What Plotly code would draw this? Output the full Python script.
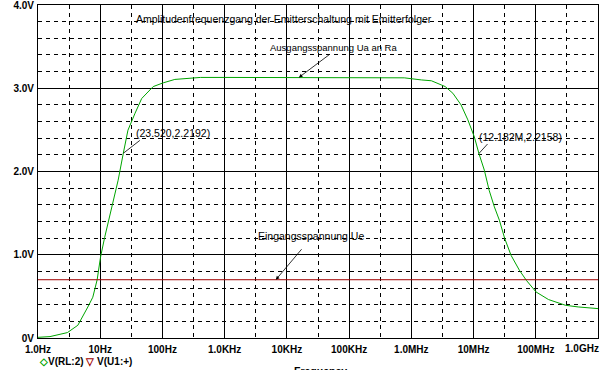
import plotly.graph_objects as go
import math

# ---- data ----
freq_hz = [1, 1.56, 2.97, 4.37, 6.33, 7.6, 8.93, 10.1, 11.8, 13.7, 16.0, 19.4, 23.5,
           27.9, 36.3, 46.4, 71, 103, 158, 409, 1e3, 1e4, 1e5, 7.7e5, 1.45e6, 2.1e6,
           3.03e6, 3.5e6, 4.65e6, 6.3e6, 8.1e6, 10.3e6, 12.2e6, 14.9e6, 17.8e6, 21.6e6,
           26e6, 31.7e6, 40e6, 54.5e6, 70.5e6, 101e6, 160e6, 300e6, 480e6, 1e9]
v_out = [0.008, 0.017, 0.065, 0.153, 0.373, 0.49, 0.70, 0.97, 1.21, 1.41, 1.655, 1.895, 2.219,
         2.496, 2.70, 2.877, 3.02, 3.065, 3.106, 3.13, 3.13, 3.13, 3.13, 3.125, 3.10, 3.09,
         3.04, 3.02, 2.94, 2.80, 2.62, 2.415, 2.216, 2.016, 1.775, 1.575,
         1.415, 1.195, 0.994, 0.814, 0.693, 0.553, 0.462, 0.393, 0.373, 0.353]
ve_freq = [1, 1e9]
v_in = [0.70, 0.70]

x_tickvals = [1, 10, 100, 1e3, 1e4, 1e5, 1e6, 1e7, 1e8, 1e9]
x_ticktext = ["1.0Hz", "10Hz", "100Hz", "1.0KHz", "10KHz", "100KHz", "1.0MHz", "10MHz", "100MHz", "1.0GHz"]
x_minor = [3.1623 * v for v in x_tickvals[:-1]]
y_tickvals = [0, 1, 2, 3, 4]
y_ticktext = ["0V", "1.0V", "2.0V", "3.0V", "4.0V"]
y_minor = [i * 0.2 for i in range(1, 20) if i % 5 != 0]

cursor1 = (23.520, 2.2192)
cursor2 = (12.182e6, 2.2158)

FONT = "Liberation Sans Narrow, Arial Narrow, sans-serif"
GREEN = "rgb(0,165,0)"
RED = "rgb(160,0,0)"

fig = go.Figure()
fig.add_trace(go.Scatter(x=freq_hz, y=v_out, mode="lines", line=dict(color=GREEN, width=1),
                         name="V(RL:2)", showlegend=False))
fig.add_trace(go.Scatter(x=ve_freq, y=v_in, mode="lines", line=dict(color=RED, width=1),
                         name="V(U1:+)", showlegend=False))

gridcommon = dict(showgrid=True, gridcolor="black", gridwidth=1,
                  showline=True, linecolor="black", linewidth=1, mirror=True,
                  ticks="", zeroline=False, automargin=False, ticklabeloverflow="allow")

tickfont = dict(family=FONT, size=10, color="black", weight="bold")

# last x label drawn separately (shifted left to fit, as in the reference)
x_ticktext_axis = x_ticktext[:-1] + [""]

fig.update_xaxes(type="log", range=[0, 9], tickmode="array", tickvals=x_tickvals, ticktext=x_ticktext_axis,
                 tickfont=tickfont, ticklabelstandoff=2,
                 minor=dict(tickmode="array", tickvals=x_minor, showgrid=True, gridcolor="black",
                            griddash="4px,4px", gridwidth=1, ticks=""),
                 **gridcommon)
fig.update_yaxes(range=[0, 4], tickmode="array", tickvals=y_tickvals, ticktext=y_ticktext,
                 tickfont=tickfont,
                 minor=dict(tickmode="array", tickvals=y_minor, showgrid=True, gridcolor="black",
                            griddash="4px,4px", gridwidth=1, ticks=""),
                 ticklabelstandoff=1,
                 **gridcommon)

def L(px):
    return (px - 38) / 62.2

tf = dict(family=FONT, size=10.5, color="black")
ann = []
ann.append(dict(x=L(284), y=3.83, xref="x", yref="y", showarrow=False,
                text="Amplitudenfrequenzgang der Emitterschaltung mit Emitterfolger", font=tf))
ann.append(dict(x=L(333), y=3.494, xref="x", yref="y", showarrow=False,
                text="Ausgangsspannung Ua an Ra", font=dict(family=FONT, size=9.5, color="black")))
ann.append(dict(x=L(311), y=1.222, xref="x", yref="y", showarrow=False,
                text="Eingangsspannung Ue", font=tf))
# arrows
ann.append(dict(x=math.log10(15.6e3), y=3.13, xref="x", yref="y", text="", showarrow=True,
                ax=32, ay=-24, arrowhead=2, arrowsize=0.9, arrowwidth=0.8, arrowcolor="black"))
ann.append(dict(x=math.log10(6.65e3), y=v_in[0], xref="x", yref="y", text="", showarrow=True,
                ax=27, ay=-32, arrowhead=2, arrowsize=0.9, arrowwidth=0.8, arrowcolor="black"))
# cursor labels
ann.append(dict(x=math.log10(cursor1[0]), y=cursor1[1], xref="x", yref="y", text="", showarrow=True,
                ax=18, ay=-14, arrowhead=0, arrowwidth=0.8, arrowcolor="black"))
ann.append(dict(x=math.log10(cursor1[0]), y=cursor1[1], xref="x", yref="y", showarrow=False,
                text="(%.3f,%.4f)" % cursor1, xanchor="left", yanchor="middle",
                xshift=11, yshift=20, font=tf))
ann.append(dict(x=math.log10(cursor2[0]), y=cursor2[1], xref="x", yref="y", text="", showarrow=True,
                ax=10, ay=-11, arrowhead=0, arrowwidth=0.8, arrowcolor="black"))
ann.append(dict(x=math.log10(cursor2[0]), y=cursor2[1], xref="x", yref="y", showarrow=False,
                text="(%.3fM,%.4f)" % (cursor2[0] / 1e6, cursor2[1]), xanchor="left", yanchor="middle",
                xshift=-2, yshift=17, font=tf))
# last x tick label
ann.append(dict(x=1, y=0, xref="paper", yref="paper", xanchor="right", yanchor="top",
                showarrow=False, xshift=3, yshift=-3, text=x_ticktext[-1], font=tickfont))
# legend and axis title
ann.append(dict(x=0, y=0, xref="paper", yref="paper", xanchor="left", yanchor="top",
                showarrow=False, xshift=-1, yshift=-16,
                text="<span style='color:%s'>◇</span>V(RL:2) <span style='color:%s'>▽</span> V(U1:+)" % (GREEN, RED),
                font=dict(family=FONT, size=10, color="black", weight="bold")))
ann.append(dict(x=L(320) / 9, y=0, xref="paper", yref="paper", xanchor="center", yanchor="top",
                showarrow=False, text="Frequency", yshift=-25,
                font=dict(family=FONT, size=10.5, color="black", weight="bold")))

fig.update_layout(width=604, height=370, margin=dict(l=38, r=6, t=5, b=32),
                  paper_bgcolor="white", plot_bgcolor="white", showlegend=False,
                  annotations=ann)

fig.write_html("out.html", config={"displayModeBar": False},
               post_script="document.body.style.margin='0';document.body.style.padding='0';")
